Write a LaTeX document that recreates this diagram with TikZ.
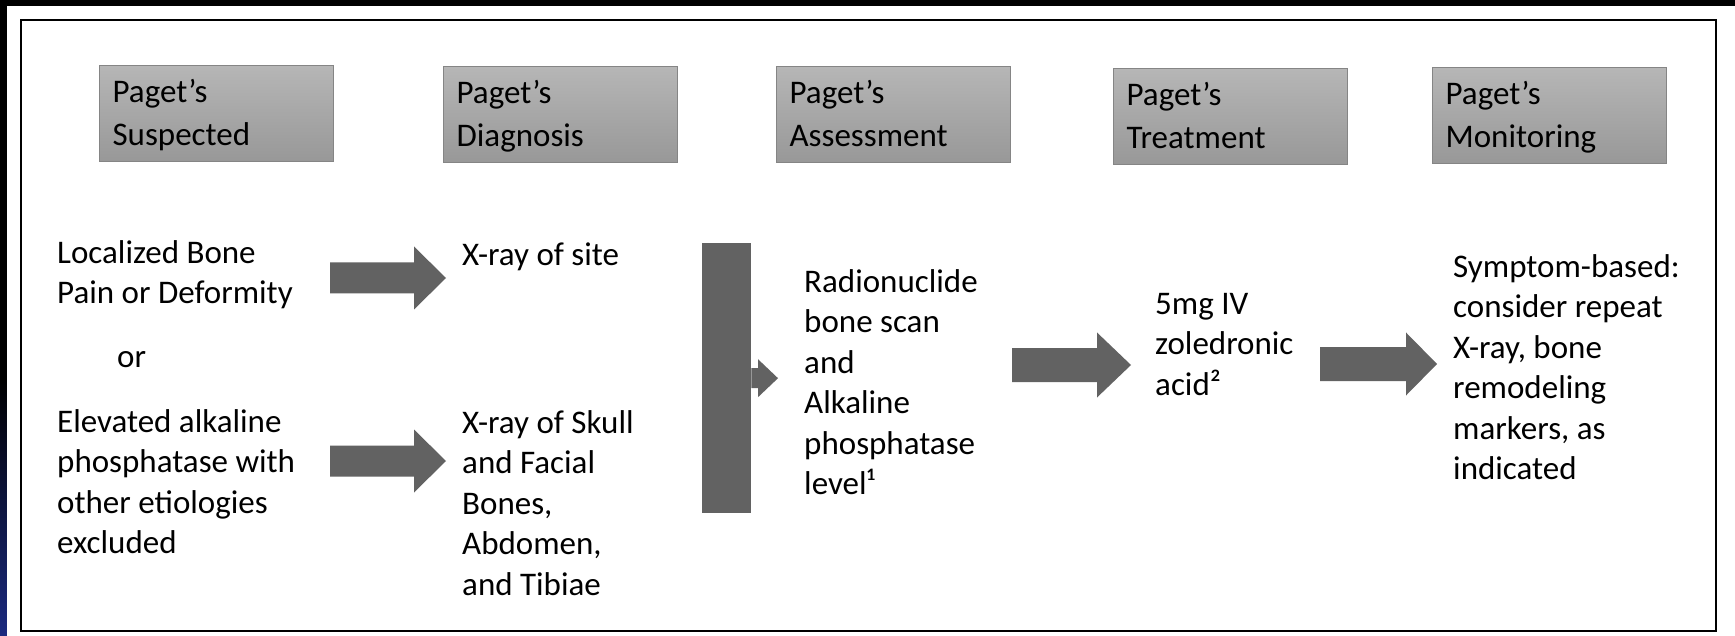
\documentclass[tikz,border=0pt]{standalone}
\usepackage{fontspec}
\setmainfont{Carlito}
\usetikzlibrary{calc}
\definecolor{boxtop}{HTML}{B6B6B6}
\definecolor{boxbot}{HTML}{989898}
\definecolor{boxline}{HTML}{858585}
\definecolor{arrowgray}{HTML}{626262}
\definecolor{slideblue}{HTML}{1B2A80}
\newcommand{\blockarrow}[5]{%
  \fill[arrowgray] let \p1=(#1), \p2=(#2) in
    (\x1,\y1+#3) -- (\x2-#5,\y1+#3) -- (\x2-#5,\y1+#4) -- (\x2,\y1)
    -- (\x2-#5,\y1-#4) -- (\x2-#5,\y1-#3) -- (\x1,\y1-#3) -- cycle;}
\begin{document}
\begin{tikzpicture}[x=1pt,y=-1pt,
  phase/.style={rectangle, draw=boxline, line width=1.2pt,
    top color=boxtop, bottom color=boxbot,
    minimum width=234pt, minimum height=96pt, text width=208pt,
    inner xsep=13pt, inner ysep=0pt, align=left, anchor=north west,
    font=\fontsize{33}{43}\selectfont},
  body/.style={anchor=north west, inner sep=0pt, align=left,
    font=\fontsize{33}{40.5}\selectfont},
  ]
\useasboundingbox (0,0) rectangle (1735,636);
% slide background and white panel
\fill[black] (0,0) rectangle (1735,636);
\shade[top color=black, bottom color=slideblue] (0,380) rectangle (7,636);
\fill[white] (7,6) rectangle (1735,636);
\draw[line width=2.5pt] (21,20) rectangle (1716,631);

% phase headers
\node[phase] (h1) at (99,65)  {\rule{0pt}{30pt}Paget’s\\Suspected\rule[-9pt]{0pt}{9pt}};
\node[phase] (h2) at (443,66) {\rule{0pt}{30pt}Paget’s\\Diagnosis\rule[-9pt]{0pt}{9pt}};
\node[phase] (h3) at (776,66) {\rule{0pt}{30pt}Paget’s\\Assessment\rule[-9pt]{0pt}{9pt}};
\node[phase] (h4) at (1113,68) {\rule{0pt}{30pt}Paget’s\\Treatment\rule[-9pt]{0pt}{9pt}};
\node[phase] (h5) at (1432,67) {\rule{0pt}{30pt}Paget’s\\Monitoring\rule[-9pt]{0pt}{9pt}};

% texts
\node[body] (s1) at (57,233) {\rule{0pt}{30pt}Localized Bone\\Pain or Deformity};
\node[body] (sor) at (117,337) {\rule{0pt}{30pt}or};
\node[body] (s2) at (57,402) {\rule{0pt}{30pt}Elevated alkaline\\phosphatase with\\other etiologies\\excluded};
\node[body] (d1) at (462,235) {\rule{0pt}{30pt}X-ray of site};
\node[body] (d2) at (462,403) {\rule{0pt}{30pt}X-ray of Skull\\and Facial\\Bones,\\Abdomen,\\and Tibiae};
\node[body] (as) at (804,262) {\rule{0pt}{30pt}Radionuclide\\bone scan\\and\\Alkaline\\phosphatase\\level¹};
\node[body] (tr) at (1155,284) {\rule{0pt}{30pt}5mg IV\\zoledronic\\acid²};
\node[body] (mo) at (1453,247) {\rule{0pt}{30pt}Symptom-based:\\consider repeat\\X-ray, bone\\remodeling\\markers, as\\indicated};

% block arrows
\coordinate (a1s) at (330,278);  \coordinate (a1e) at (446,278);
\coordinate (a2s) at (330,461);  \coordinate (a2e) at (446,461);
\coordinate (a3s) at (1012,365); \coordinate (a3e) at (1131,365);
\coordinate (a4s) at (1320,364); \coordinate (a4e) at (1437,364);
\blockarrow{a1s}{a1e}{15.5pt}{31.5pt}{32pt}
\blockarrow{a2s}{a2e}{15.5pt}{31.5pt}{32pt}
\blockarrow{a3s}{a3e}{17pt}{32.5pt}{34pt}
\blockarrow{a4s}{a4e}{17pt}{31.5pt}{31pt}

% merging bar with small arrow
\node[fill=arrowgray, minimum width=49pt, minimum height=270pt, inner sep=0pt,
  anchor=north west] (bar) at (702,243) {};
\coordinate (bartip) at (778,378);
\blockarrow{bar.east}{bartip}{10pt}{19pt}{20pt}
\end{tikzpicture}
\end{document}
